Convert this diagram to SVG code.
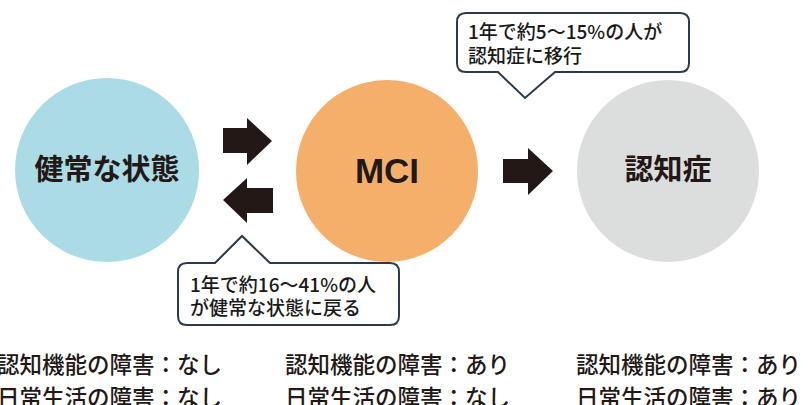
<svg xmlns="http://www.w3.org/2000/svg" width="808" height="405" viewBox="0 0 808 405">
<style>
.lbl{font-family:"Noto Sans CJK JP","Liberation Sans",sans-serif;font-weight:700;fill:#231815;text-anchor:middle}
.call{fill:#fff;stroke:#2b3a4a;stroke-width:2;stroke-linejoin:miter}
.ct{font-family:"Noto Sans CJK JP",sans-serif;font-size:19px;font-weight:500;fill:#1a1a1a}
.bt{font-family:"Noto Sans CJK JP",sans-serif;font-size:22.5px;font-weight:500;fill:#231815}
.arr{fill:#231815}
</style>
<rect width="808" height="405" fill="#fff"/>
<g id="node-healthy">
<circle cx="107" cy="170" r="92" fill="#ABDBE5"/>
<text class="lbl" x="107" y="180" font-size="29">健常な状態</text>
</g>
<g id="node-mci">
<circle cx="387" cy="171" r="91" fill="#F4B06A"/>
<text class="lbl" x="387" y="183" font-size="35" style="font-family:'Liberation Sans',Arial,sans-serif">MCI</text>
</g>
<g id="node-dementia">
<circle cx="668" cy="171" r="91" fill="#DCDDDD"/>
<text class="lbl" x="668" y="180" font-size="29">認知症</text>
</g>
<g id="connectors">
<polygon class="arr" points="223,128 247,128 247,118 272,141 247,165 247,153 223,153"/>
<polygon class="arr" points="273,188 247,188 247,178 223,200 247,223 247,213 273,213"/>
<polygon class="arr" points="503,159 528,159 528,148 553,171 528,195 528,183 503,183"/>
</g>
<g id="callout-progress">
<path class="call" d="M466,13 H680 Q689,13 689,22 V63 Q689,72 680,72 H555 L525,98 L498,72 H466 Q457,72 457,63 V22 Q457,13 466,13 Z"/>
<text class="ct" x="468" y="39">1年で約5～15%の人が</text>
<text class="ct" x="468" y="63">認知症に移行</text>
</g>
<g id="callout-return">
<path class="call" d="M187,263 H215 L242,236 L270,263 H390 Q399,263 399,272 V316 Q399,325 390,325 H187 Q178,325 178,316 V272 Q178,263 187,263 Z"/>
<text class="ct" x="190" y="292">1年で約16～41%の人</text>
<text class="ct" x="190" y="315">が健常な状態に戻る</text>
</g>
<g id="status-text">
<text class="bt" x="-3" y="373">認知機能の障害：なし</text>
<text class="bt" x="-3" y="406">日常生活の障害：なし</text>
<text class="bt" x="285" y="373">認知機能の障害：あり</text>
<text class="bt" x="285" y="406">日常生活の障害：なし</text>
<text class="bt" x="576" y="373">認知機能の障害：あり</text>
<text class="bt" x="576" y="406">日常生活の障害：あり</text>
</g>
</svg>
